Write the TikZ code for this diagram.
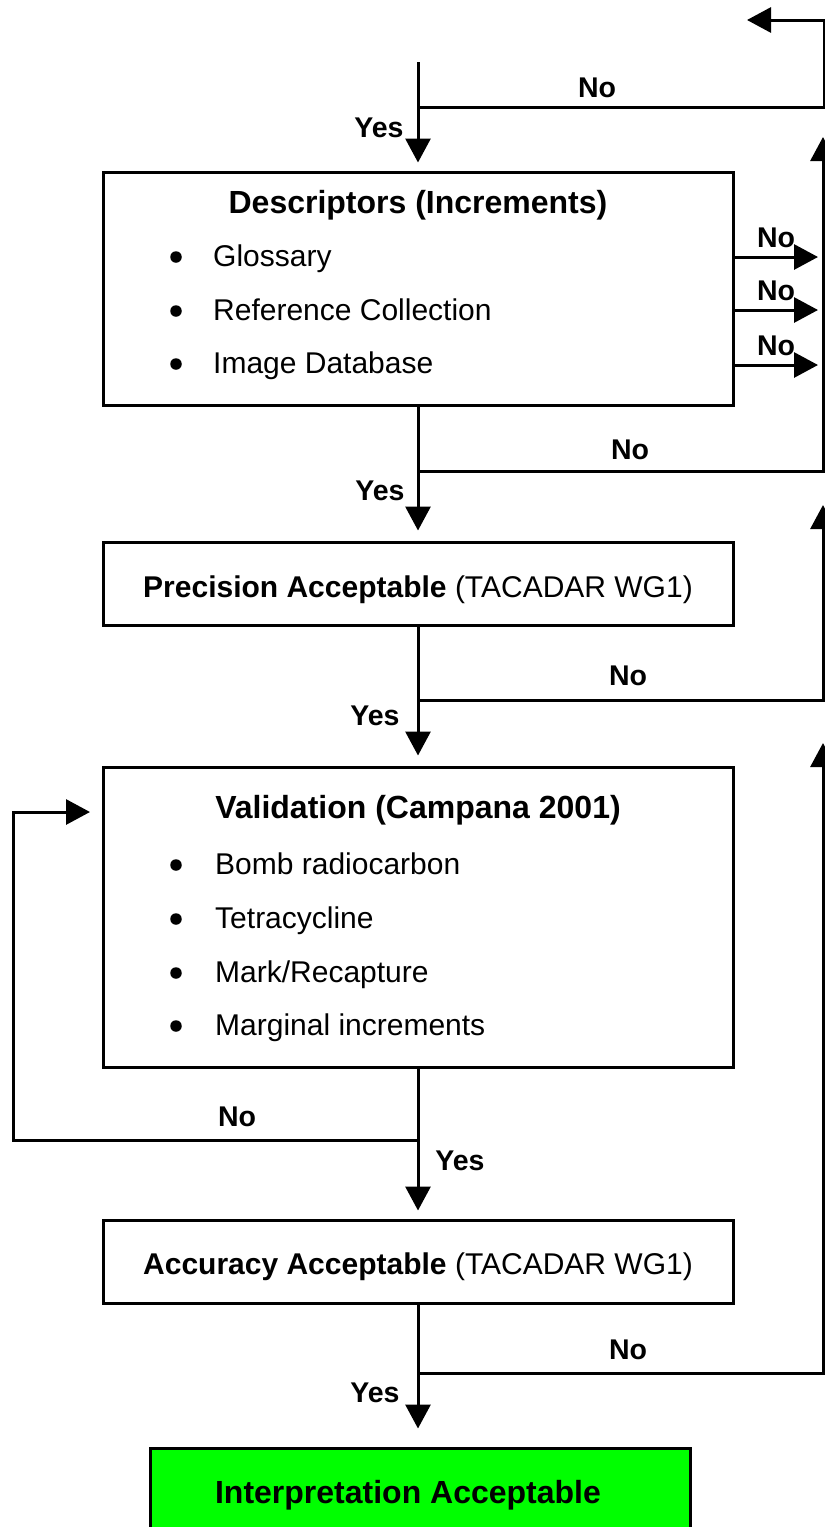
\documentclass[tikz,border=0pt]{standalone}
\usepackage{fontspec}
\setmainfont{Liberation Sans}
\usetikzlibrary{arrows.meta}
\definecolor{okgreen}{RGB}{0,255,0}
\begin{document}
\begin{tikzpicture}[x=1pt,y=-1pt,
  box/.style={draw, line width=3pt, inner sep=0pt},
  conn/.style={line width=3pt, line join=miter},
  arr/.style={conn, -{Triangle[length=24pt,width=25pt]}},
  title/.style={font=\fontsize{32}{38}\selectfont\bfseries, anchor=mid},
  txt/.style={font=\fontsize{30}{36}\selectfont, anchor=mid},
  item/.style={font=\fontsize{30}{36}\selectfont, anchor=mid west, inner sep=0pt},
  bul/.style={circle, fill, inner sep=0pt, minimum size=11.5pt},
  lbl/.style={font=\fontsize{28.5}{34}\selectfont\bfseries, anchor=mid}]
\useasboundingbox (0,0) rectangle (825,1527);

% boxes
\node[box, minimum width=630pt, minimum height=233pt] (desc) at (418,288.5) {};
\node[box, minimum width=630pt, minimum height=83pt] (prec) at (418,583.5) {};
\node[box, minimum width=630pt, minimum height=300pt] (valid) at (418,917) {};
\node[box, minimum width=630pt, minimum height=83pt] (acc) at (418,1261.5) {};
\node[box, fill=okgreen, minimum width=540pt, minimum height=90pt] (interp) at (420,1493) {};

% box texts
\node[title] (dtitle) at (418,211) {Descriptors (Increments)};
\node[bul] (b1) at (176,257) {};
\node[item] (i1) at (213,264) {Glossary};
\node[bul] (b2) at (176,311) {};
\node[item] (i2) at (213,318) {Reference Collection};
\node[bul] (b3) at (176,364) {};
\node[item] (i3) at (213,371) {Image Database};

\node[txt] (ptext) at (418,595) {\textbf{Precision Acceptable} (TACADAR WG1)};

\node[title] (vtitle) at (418,816) {Validation (Campana 2001)};
\node[bul] (v1) at (176,865) {};
\node[item] (vi1) at (215,872) {Bomb radiocarbon};
\node[bul] (v2) at (176,919) {};
\node[item] (vi2) at (215,926) {Tetracycline};
\node[bul] (v3) at (176,973) {};
\node[item] (vi3) at (215,980) {Mark/Recapture};
\node[bul] (v4) at (176,1026) {};
\node[item] (vi4) at (215,1033) {Marginal increments};

\node[txt] (atext) at (418,1272) {\textbf{Accuracy Acceptable} (TACADAR WG1)};
\node[title] (itext) at (408,1501) {Interpretation Acceptable};

% coordinates
\coordinate (topin) at (418,62);
\coordinate (j0) at (418,107);
\coordinate (r0) at (824,107);
\coordinate (r0t) at (824,20);
\coordinate (t0) at (747,20);

\coordinate (e1) at (818,257);
\coordinate (e2) at (818,310);
\coordinate (e3) at (818,365);

\coordinate (j1) at (418,471);
\coordinate (r1) at (823,471);
\coordinate (u1) at (823,137);

\coordinate (j2) at (418,700);
\coordinate (r2) at (823,700);
\coordinate (u2) at (823,505);

\coordinate (j3) at (418,1140);
\coordinate (l3) at (13,1140);
\coordinate (l3t) at (13,812);
\coordinate (t3) at (90,812);

\coordinate (j4) at (418,1373);
\coordinate (r4) at (823,1373);
\coordinate (u4) at (823,743);

% connectors
\draw[arr, shorten >=8pt] (topin) -- (desc.north);
\draw[arr] (j0) -- (r0) -- (r0t) -- (t0);

\draw[arr] (desc.east |- e1) -- (e1);
\draw[arr] (desc.east |- e2) -- (e2);
\draw[arr] (desc.east |- e3) -- (e3);

\draw[arr, shorten >=10pt] (desc.south) -- (prec.north);
\draw[arr] (j1) -- (r1) -- (u1);

\draw[arr, shorten >=10pt] (prec.south) -- (valid.north);
\draw[arr] (j2) -- (r2) -- (u2);

\draw[arr, shorten >=8pt] (valid.south) -- (acc.north);
\draw[arr] (j3) -- (l3) -- (l3t) -- (t3);

\draw[arr, shorten >=18pt] (acc.south) -- (acc.south |- interp.north);
\draw[arr] (j4) -- (r4) -- (u4);

% labels
\node[lbl] (n0) at (597,95) {No};
\node[lbl] (y0) at (379,135) {Yes};
\node[lbl] (n1a) at (776,245) {No};
\node[lbl] (n1b) at (776,298) {No};
\node[lbl] (n1c) at (776,353) {No};
\node[lbl] (n1) at (630,457) {No};
\node[lbl] (y1) at (380,498) {Yes};
\node[lbl] (n2) at (628,683) {No};
\node[lbl] (y2) at (375,723) {Yes};
\node[lbl] (n3) at (237,1124) {No};
\node[lbl] (y3) at (460,1168) {Yes};
\node[lbl] (n4) at (628,1357) {No};
\node[lbl] (y4) at (375,1400) {Yes};
\end{tikzpicture}
\end{document}
